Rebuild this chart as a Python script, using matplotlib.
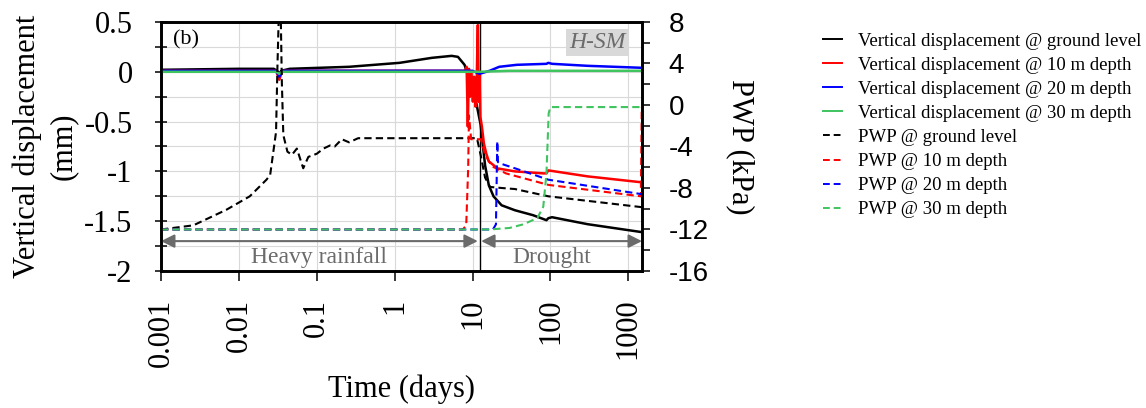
import numpy as np
import matplotlib
matplotlib.use("Agg")
import matplotlib.pyplot as plt
from matplotlib.ticker import MultipleLocator, LogLocator, FixedLocator, FixedFormatter, NullFormatter
from matplotlib.lines import Line2D

# --------------------------------------------------
# Data
# --------------------------------------------------

# vertical displacement (mm), left axis
t_disp_gl = [0.001, 0.01, 0.028, 0.031, 0.033, 0.035, 0.045, 0.26, 1.16, 3.0, 5.4, 6.5,
             7.9, 9.3, 10.9, 12.7, 14.5, 16.2, 18.6, 23.6, 35, 60, 89, 94, 105, 300, 1500]
disp_gl = [0.02, 0.03, 0.03, 0.01, -0.02, 0.01, 0.03, 0.05, 0.09, 0.14, 0.16, 0.15,
           0.07, -0.1, -0.27, -0.53, -0.94, -1.14, -1.25, -1.34, -1.39, -1.44, -1.49, -1.47, -1.46, -1.53, -1.61]

t_disp_10 = [0.001, 0.03, 0.033, 0.036, 8.0, 8.4, 8.7, 9.0, 9.3, 9.7, 10.1, 10.5, 10.9, 11.3,
             11.7, 12.0, 12.3, 12.6, 13.2, 14.0, 15.0, 16.2, 21, 35, 81, 89, 94, 300, 1500]
disp_10 = [0.01, 0.01, -0.08, 0.01, 0.01, 0.05, -0.55, 0.03, -0.25, 0.0, -0.3, -0.05, -0.35, -0.1,
           0.47, -0.3, 0.0, -0.45, -0.55, -0.72, -0.82, -0.9, -0.97, -1.0, -1.02, -1.02, -0.99, -1.05, -1.11]

t_disp_20 = [0.001, 0.03, 0.033, 0.036, 10, 12.3, 16.6, 22, 37, 89, 94, 105, 300, 1500]
disp_20 = [0.01, 0.01, -0.05, 0.01, 0.01, -0.02, 0.01, 0.05, 0.07, 0.08, 0.09, 0.08, 0.06, 0.04]

t_disp_30 = [0.001, 0.03, 0.033, 0.036, 12.3, 30, 1500]
disp_30 = [0.0, 0.0, -0.02, 0.0, 0.0, 0.01, 0.01]

# pore water pressure (kPa), right axis
t_pwp_gl = [0.001, 0.0026, 0.0069, 0.0138, 0.0226, 0.0252, 0.030, 0.0313, 0.0325, 0.0333, 0.0345,
            0.0356, 0.0372, 0.042, 0.048, 0.0555, 0.067, 0.078, 0.1, 0.122, 0.148, 0.17, 0.21,
            0.26, 0.34, 0.7, 7.9, 11.4, 12.7, 14.5, 16.8, 23.6, 35, 94, 1500]
pwp_gl = [-12.0, -11.6, -10.1, -8.8, -7.2, -6.75, -2.6, 3.9, 8.5, 12.0, 8.5,
          2.25, -2.9, -4.5, -4.8, -4.2, -6.1, -5.0, -4.7, -4.2, -3.9, -4.0, -3.3,
          -3.6, -3.2, -3.2, -3.2, -3.2, -4.8, -7.0, -7.9, -8.0, -8.1, -8.8, -9.85]

t_pwp_10 = [0.001, 7.5, 8.3, 8.8, 9.0, 9.6, 12.8, 14.5, 17.7, 27, 94, 1450, 1490]
pwp_10 = [-12.0, -12.0, -11.6, -6.0, -1.0, -3.3, -3.3, -4.8, -5.9, -6.6, -7.7, -8.8, -0.2]

t_pwp_20 = [0.001, 18.3, 20.0, 20.8, 21.2, 22, 26.4, 35, 94, 1500]
pwp_20 = [-12.0, -12.0, -11.5, -3.5, -5.5, -5.6, -5.8, -6.1, -7.2, -8.6]

t_pwp_30 = [0.001, 16.6, 30, 45, 68, 81, 89, 95, 100, 1500]
pwp_30 = [-12.0, -12.0, -11.85, -11.5, -10.9, -9.8, -6.6, -0.8, -0.2, -0.2]

x_ticks = [0.001, 0.01, 0.1, 1, 10, 100, 1000]
x_tick_labels = ["0.001", "0.01", "0.1", "1", "10", "100", "1000"]

legend_labels = [
    "Vertical displacement @ ground level",
    "Vertical displacement @ 10 m depth",
    "Vertical displacement @ 20 m depth",
    "Vertical displacement @ 30 m depth",
    "PWP @ ground level",
    "PWP @ 10 m depth",
    "PWP @ 20 m depth",
    "PWP @ 30 m depth",
]

t_switch = 12.3      # heavy rainfall -> drought
t_end = 1500

# --------------------------------------------------
# Style
# --------------------------------------------------

plt.rcParams["font.family"] = ["Liberation Serif", "DejaVu Serif"]
plt.rcParams["axes.unicode_minus"] = False

COLORS = ["black", "#ff0000", "#0000ff", "#3fc45f"]
GREY = "#6b6b6b"
DASH = (3.5, 2.0)

fig = plt.figure(figsize=(11.46, 4.08), dpi=100)
ax = fig.add_axes([0.1405, 0.3358, 0.4197, 0.6103])
ax2 = ax.twinx()

# --------------------------------------------------
# Lines
# --------------------------------------------------

disp_series = [(t_disp_gl, disp_gl), (t_disp_10, disp_10), (t_disp_20, disp_20), (t_disp_30, disp_30)]
pwp_series = [(t_pwp_gl, pwp_gl), (t_pwp_10, pwp_10), (t_pwp_20, pwp_20), (t_pwp_30, pwp_30)]

for (t, v), c in zip(disp_series, COLORS):
    ax.plot(t, v, color=c, linewidth=1.8, zorder=3)

for (t, p), c in zip(pwp_series, COLORS):
    ax2.plot(t, p, color=c, linewidth=1.5, dashes=DASH)

ax.axvline(t_switch, color="black", linewidth=1.0, zorder=2)

# --------------------------------------------------
# Axes
# --------------------------------------------------

ax.set_xscale("log")
ax.set_xlim(0.001, t_end)
ax.set_ylim(-2, 0.5)
ax2.set_ylim(-16, 8)

ax.xaxis.set_major_locator(FixedLocator(x_ticks))
ax.xaxis.set_major_formatter(FixedFormatter(x_tick_labels))
ax.xaxis.set_minor_locator(LogLocator(base=10, subs=np.arange(2, 10)))
ax.xaxis.set_minor_formatter(NullFormatter())

ax.yaxis.set_major_locator(MultipleLocator(0.5))
ax.yaxis.set_minor_locator(MultipleLocator(0.25))
ax.yaxis.set_major_formatter(plt.FuncFormatter(lambda v, pos: f"{v:g}"))

ax2.yaxis.set_major_locator(MultipleLocator(4))
ax2.yaxis.set_minor_locator(MultipleLocator(2))

ax.grid(True, which="both", axis="x", color="#d9d9d9", linewidth=0.8)
ax.grid(True, which="both", axis="y", color="#d9d9d9", linewidth=0.8)
ax.set_axisbelow(True)

ax.tick_params(axis="x", which="major", direction="out", length=7, width=1.1,
               labelsize=22, labelrotation=90, pad=13)
ax.tick_params(axis="x", which="minor", direction="out", length=5, width=1.0)
ax.tick_params(axis="y", which="both", direction="inout", length=9, width=1.1,
               labelsize=22, pad=16)
ax2.tick_params(axis="y", which="both", direction="out", length=6, width=1.1,
                labelsize=20, pad=13)
for lab in ax2.get_yticklabels():
    lab.set_fontfamily("Liberation Sans")

for a in (ax, ax2):
    for s in a.spines.values():
        s.set_linewidth(1.9)

ax.set_xlabel("Time (days)", fontsize=22)
ax.xaxis.set_label_coords(0.5, -0.414)
ax.set_ylabel("Vertical displacement\n(mm)", fontsize=22, linespacing=1.3)
ax.yaxis.set_label_coords(-0.1726, 0.5)
ax2.set_ylabel("PWP (kPa)", fontsize=22, rotation=270, va="center")
ax2.yaxis.set_label_coords(1.2037, 0.5)

# --------------------------------------------------
# Annotations
# --------------------------------------------------

ax.text(0.025, 0.965, "(b)", transform=ax.transAxes, fontsize=16, va="top", ha="left")
ax.text(0.9075, 0.918, "H-SM", transform=ax.transAxes, fontsize=17, style="italic",
        color=GREY, ha="center", va="center",
        bbox=dict(boxstyle="square,pad=0.12", facecolor="#d9d9d9", edgecolor="none"))

arrow_y = -1.70
arrow_kw = dict(arrowstyle="<|-|>", color=GREY, lw=1.5, mutation_scale=20, shrinkA=0, shrinkB=0)
ax.annotate("", xy=(11.7, arrow_y), xytext=(0.001, arrow_y), arrowprops=arrow_kw, zorder=4)
ax.annotate("", xy=(t_end, arrow_y), xytext=(12.9, arrow_y), arrowprops=arrow_kw, zorder=4)

ax.text(0.106, -1.92, "Heavy rainfall", fontsize=17, color=GREY, ha="center", va="baseline")
ax.text(105, -1.92, "Drought", fontsize=17, color=GREY, ha="center", va="baseline")

# --------------------------------------------------
# Legend
# --------------------------------------------------

handles = [Line2D([], [], color=c, linewidth=1.4) for c in COLORS]
handles += [Line2D([], [], color=c, linewidth=1.4, dashes=DASH) for c in COLORS]

fig.legend(
    handles,
    legend_labels,
    loc="upper left",
    bbox_to_anchor=(0.718, 0.92),
    frameon=False,
    fontsize=13.5,
    handlelength=1.0,
    handletextpad=0.85,
    labelspacing=0.37,
    borderpad=0,
    borderaxespad=0,
)

fig.savefig("out.png", dpi=100)
